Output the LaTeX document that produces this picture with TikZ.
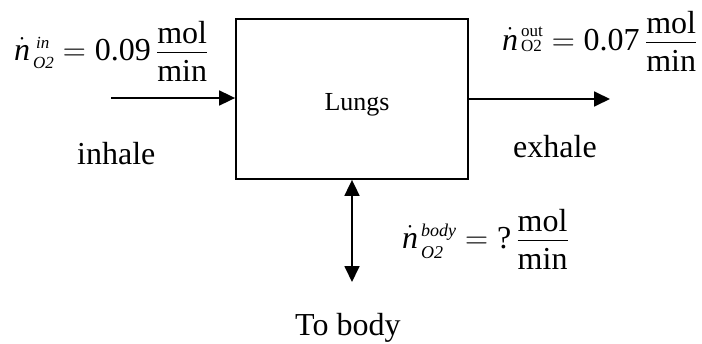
\RequirePackage{fix-cm}
\documentclass[tikz,border=0pt]{standalone}
\usepackage{amsmath}
\usepackage{fontspec}
\setmainfont{Liberation Serif}
\usetikzlibrary{arrows.meta}
\newcommand\ndt{\dot{\mbox{\itshape n}}}
% #1 size, #2 sup, #3 sub, #4 raise, #5 lower, #6 extra kern of sup
\newcommand\sscr[6]{\hbox{\fontsize{#1}{#1}\selectfont
  \setbox0=\hbox{\kern#6#2}\setbox2=\hbox{#3}%
  \dimen0=\ifdim\wd0>\wd2 \wd0\else\wd2\fi
  \kern3pt\hbox to \dimen0{\rlap{\raise#4\copy0}\lower#5\copy2\hss}}}
\newcommand\molmin{\dfrac{\raisebox{-5pt}{mol}}{\mbox{min}}}
\begin{document}
\begin{tikzpicture}[x=1pt,y=-1pt,
  line/.style={line width=1.8pt},
  tiphead/.style={-{Triangle[length=16pt,width=15pt]}},
  bothheads/.style={{Triangle[length=16pt,width=15pt]}-{Triangle[length=16pt,width=15pt]}},
  lbl/.style={inner sep=0pt, anchor=base west, font=\fontsize{32}{38}\selectfont},
  eq/.style={inner sep=0pt, anchor=base west, font=\fontsize{32}{38}\selectfont}]
\useasboundingbox (0,0) rectangle (702,343);
\node[draw, line width=1.8pt, minimum width=232pt, minimum height=160pt, inner sep=0pt] (lungs) at (352,99) {};
\node[inner sep=0pt, anchor=base, font=\fontsize{26}{30}\selectfont] (lungstext) at (357,110) {Lungs};
\coordinate (inStart) at (111,98);
\coordinate (outEnd) at (610,99);
\coordinate (bodyEnd) at (352,282);
\draw[line,tiphead] (inStart) -- (inStart -| lungs.west);
\draw[line,tiphead] (lungs.east |- outEnd) -- (outEnd);
\draw[line,bothheads] (lungs.south) -- (bodyEnd);
\node[lbl] (inhale) at (77,164) {inhale};
\node[lbl] (exhale) at (513,157) {exhale};
\node[lbl] (tobody) at (295,335) {To body};
\node[eq] (qin) at (14,60) {$\ndt\sscr{17}{\itshape in}{\itshape O2}{12pt}{8pt}{3pt} = \mbox{0.09}\,\molmin$};
\node[eq] (qout) at (502,50) {$\ndt\sscr{17}{out}{O2}{14pt}{1pt}{0pt} = \mbox{0.07}\,\molmin$};
\node[eq] (qbody) at (402,248) {$\ndt\sscr{18}{\itshape body}{\itshape O2}{12pt}{10pt}{0pt} = \mbox{?}\,\molmin$};
\end{tikzpicture}
\end{document}
